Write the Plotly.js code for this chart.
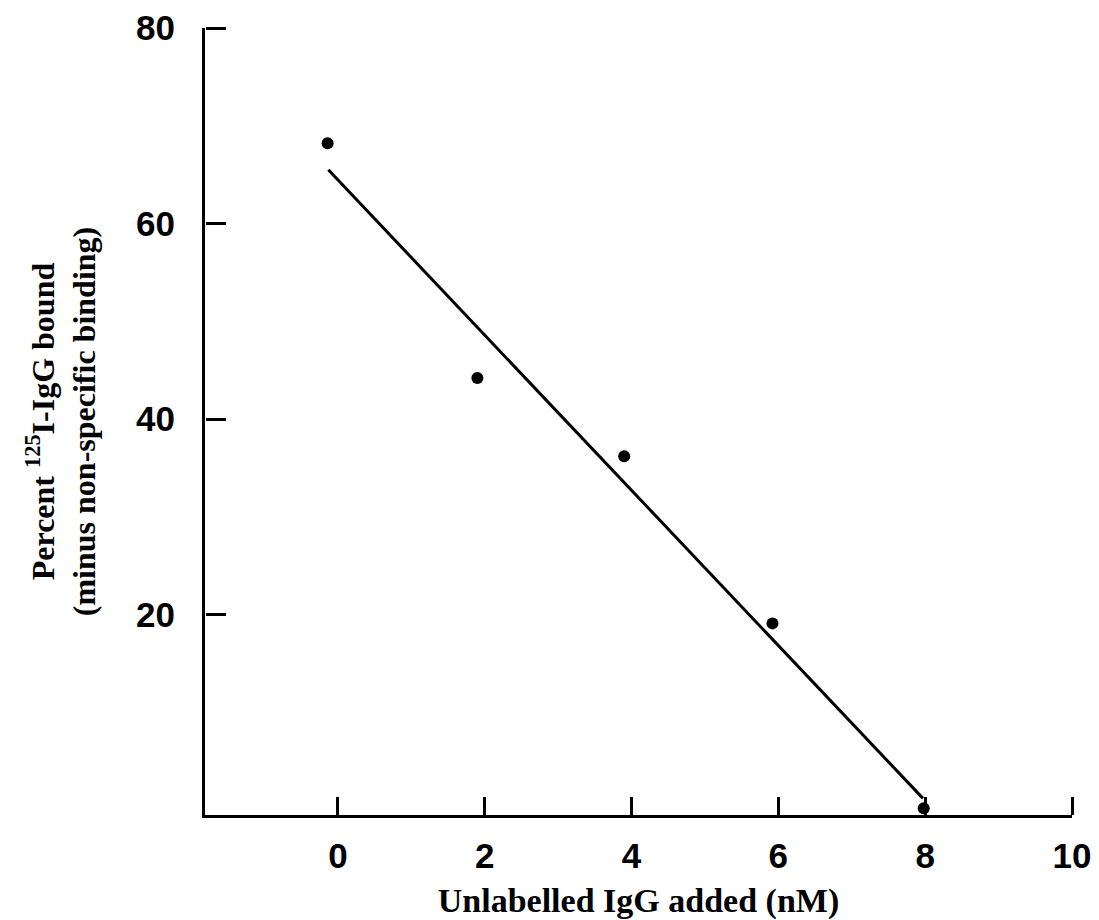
<!DOCTYPE html>
<html>
<head>
<meta charset="utf-8">
<script src="https://cdn.plot.ly/plotly-3.0.1.min.js"></script>
<style>html,body{margin:0;padding:0;background:#fff;}#chart{width:1099px;height:920px;}</style>
</head>
<body>
<div id="chart"></div>
<script>
// Data
const pointX = [-0.14, 1.90, 3.90, 5.92, 7.98];
const pointY = [68.2, 44.2, 36.2, 19.1, 0.2];
const lineX = [-0.13, 7.97];
const lineY = [65.5, 1.2];
const xTicks = [0, 2, 4, 6, 8, 10];
const yTicks = [20, 40, 60, 80];

const xRange = [-1.81, 10];
const yRange = [-0.5, 80];

const traces = [
  {x: lineX, y: lineY, mode: 'lines', type: 'scatter', xaxis: 'x2', yaxis: 'y2',
   line: {color: '#000', width: 3}, hoverinfo: 'skip', showlegend: false},
  {x: pointX, y: pointY, mode: 'markers', type: 'scatter',
   marker: {color: '#000', size: 12}, showlegend: false, cliponaxis: false}
];

const tickFont = {family: 'Liberation Sans, Arial, sans-serif', size: 35, color: '#000', weight: 'bold'};
const titleFamily = 'Liberation Serif, Times New Roman, serif';
const layout = {
  width: 1099, height: 920,
  paper_bgcolor: '#fff', plot_bgcolor: '#fff',
  margin: {l: 205, r: 27, t: 28, b: 105},
  showlegend: false,
  xaxis: {
    range: xRange, tickvals: xTicks, ticktext: xTicks.map(String),
    showgrid: false, zeroline: false, showline: true, linecolor: '#000', linewidth: 3,
    ticks: '', tickfont: tickFont, ticklabelstandoff: 8,
    title: {text: 'Unlabelled IgG added (nM)', standoff: 20,
            font: {family: titleFamily, size: 34, color: '#000', weight: 'bold'}}
  },
  yaxis: {
    range: yRange, tickvals: yTicks, ticktext: yTicks.map(String),
    showgrid: false, zeroline: false, showline: true, linecolor: '#000', linewidth: 3,
    ticks: '', tickfont: tickFont, ticklabelstandoff: 20,
    title: {text: 'Percent <sup>125</sup>I-IgG bound<br>(minus non-specific binding)', standoff: 31,
            font: {family: titleFamily, size: 32, color: '#000', weight: 'bold'}}
  },
  // overlay axes used only to draw the inward-pointing tick marks
  xaxis2: {
    overlaying: 'x', side: 'top', anchor: 'free', position: 0,
    range: xRange, tickvals: xTicks, showticklabels: false,
    ticks: 'outside', ticklen: 18, tickwidth: 3, tickcolor: '#000',
    showgrid: false, zeroline: false, showline: false
  },
  yaxis2: {
    overlaying: 'y', side: 'right', anchor: 'free', position: 0,
    range: yRange, tickvals: yTicks, showticklabels: false,
    ticks: 'outside', ticklen: 20, tickwidth: 3, tickcolor: '#000',
    showgrid: false, zeroline: false, showline: false
  }
};

Plotly.newPlot('chart', traces, layout, {displayModeBar: false, staticPlot: true});
</script>
</body>
</html>
